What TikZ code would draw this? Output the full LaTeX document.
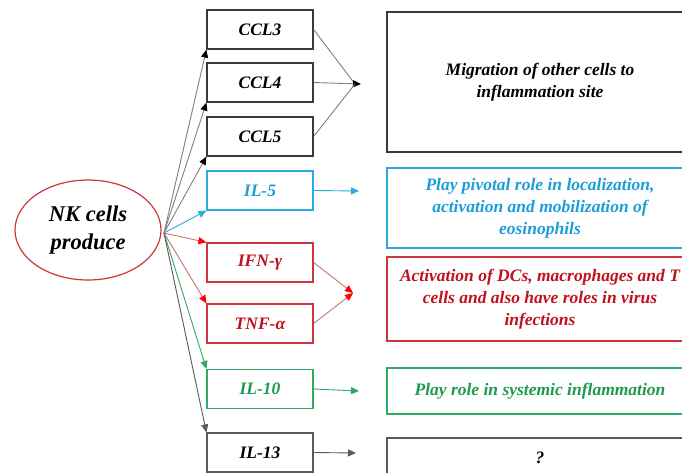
\documentclass[tikz,border=0pt]{standalone}
\usepackage{fontspec}
\setmainfont{Liberation Serif}
\usetikzlibrary{arrows.meta,shapes.geometric}
\definecolor{kblack}{HTML}{3A3A3A}
\definecolor{kline}{HTML}{808080}
\definecolor{kcyan}{HTML}{2AABDD}
\definecolor{kcyantext}{HTML}{1C9ED6}
\definecolor{kred}{HTML}{D0343C}
\definecolor{kredtext}{HTML}{C0121E}
\definecolor{kredline}{HTML}{C87474}
\definecolor{kgreen}{HTML}{2EAA64}
\definecolor{kgreentext}{HTML}{1E9A50}
\definecolor{kgray}{HTML}{5A5A5A}
\tikzset{
  lbox/.style={draw, line width=1.2pt, minimum width=106pt, minimum height=39pt, inner sep=0pt,
    font=\fontsize{17.5}{22}\selectfont\bfseries\itshape},
  rbox/.style={draw, line width=1.2pt, minimum width=306pt, inner sep=0pt, align=center,
    font=\fontsize{17.5}{22}\selectfont\bfseries\itshape},
  arr/.style={line width=0.9pt, -{Triangle[length=8pt,width=7pt]}},
  barr/.style={line width=0.9pt, kline, -{Triangle[length=8pt,width=7pt,fill=black,color=black]}},
  bline/.style={line width=0.9pt, kline},
  rarr/.style={line width=0.9pt, kredline, -{Triangle[length=8pt,width=7pt,fill=red,color=red]}},
}
\begin{document}
\begin{tikzpicture}[x=1pt,y=-1pt]
\useasboundingbox (0,0) rectangle (682,472);
\clip (0,0) rectangle (682,472);
\fill[white] (0,0) rectangle (682,472);

% source ellipse
\node[ellipse, draw=kred, line width=1.2pt, minimum width=146pt, minimum height=100pt, inner sep=0pt,
  align=center, font=\fontsize{22.5}{28}\selectfont\bfseries\itshape] (nk) at (88,230) {NK cells\\produce};
\coordinate (o) at (164,233);

% cytokine boxes
\node[lbox, draw=kblack] (ccl3) at (260,29.5) {CCL3};
\node[lbox, draw=kblack] (ccl4) at (260,82.5) {CCL4};
\node[lbox, draw=kblack] (ccl5) at (260,136.5) {CCL5};
\node[lbox, draw=kcyan, text=kcyantext] (il5) at (260,190.5) {IL-5};
\node[lbox, draw=kred, text=kredtext] (ifn) at (260,262.5) {IFN-γ};
\node[lbox, draw=kred, text=kredtext] (tnf) at (260,323.5) {TNF-α};
\node[lbox, draw=kgreen, text=kgreentext] (il10) at (260,389) {IL-10};
\node[lbox, draw=kgray] (il13) at (260,452.5) {IL-13};

% effect boxes
\node[rbox, draw=kblack, minimum height=140pt] (mig) at (540,82) {Migration of other cells to\\inflammation site};
\node[rbox, draw=kcyan, text=kcyantext, minimum height=80pt] (eos) at (540,208) {Play pivotal role in localization,\\activation and mobilization of\\eosinophils};
\node[rbox, draw=kred, text=kredtext, minimum height=84pt] (act) at (540,299) {Activation of DCs, macrophages and T\\cells and also have roles in virus\\infections};
\node[rbox, draw=kgreen, text=kgreentext, minimum height=46pt] (sys) at (540,391) {Play role in systemic inflammation};
\node[rbox, draw=kgray, minimum height=40pt] (unk) at (540,458) {?};

% arrows from NK cells
\draw[barr] (o) -- (ccl3.south west);
\draw[barr] (o) -- (ccl4.south west);
\draw[barr] (o) -- (ccl5.south west);
\draw[arr, kcyan] (o) -- (il5.south west);
\draw[rarr] (o) -- (ifn.north west);
\draw[rarr] (o) -- (tnf.north west);
\draw[arr, kgreen] (o) -- (il10.north west);
\draw[arr, kgray] (o) -- (il13.north west);

% converging arrows
\coordinate (m1) at (361,84);
\coordinate (m1b) at (355,84);
\draw[bline] (ccl3.east) -- (m1b);
\draw[barr] (ccl4.east) -- (m1);
\draw[bline] (ccl5.east) -- (m1b);
\coordinate (m2) at (359,191);
\draw[arr, kcyan] (il5.east) -- (m2);
\coordinate (m3) at (353,293);
\draw[rarr] (ifn.east) -- (m3);
\draw[rarr] (tnf.east) -- (m3);
\coordinate (m4) at (359,391);
\draw[arr, kgreen] (il10.east) -- (m4);
\coordinate (m5) at (356,453);
\draw[arr, kgray] (il13.east) -- (m5);
\end{tikzpicture}
\end{document}
